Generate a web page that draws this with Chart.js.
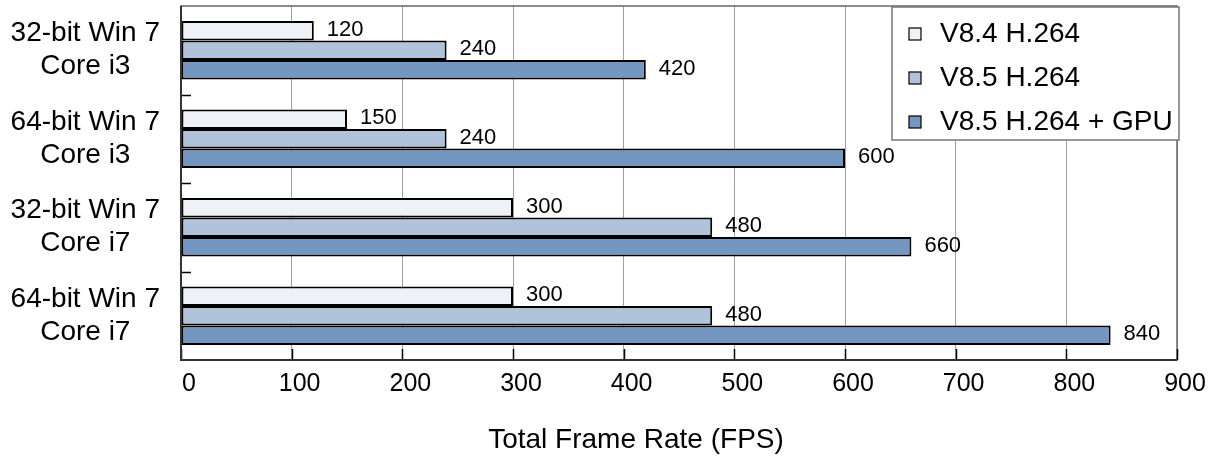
<!DOCTYPE html>
<html>
<head>
<meta charset="utf-8">
<script src="https://cdn.jsdelivr.net/npm/chart.js@4/dist/chart.umd.min.js"></script>
<style>
html,body{margin:0;padding:0;background:#fff;}
#wrap{width:1211px;height:457px;position:relative;}
</style>
</head>
<body>
<div id="wrap"><canvas id="c" width="1211" height="457"></canvas></div>
<script>
const categories = [["32-bit Win 7","Core i3"],["64-bit Win 7","Core i3"],["32-bit Win 7","Core i7"],["64-bit Win 7","Core i7"]];
const seriesNames = ["V8.4 H.264","V8.5 H.264","V8.5 H.264 + GPU"];
const v84 = [120,150,300,300];
const v85 = [240,240,480,480];
const v85gpu = [420,600,660,840];
const xTicks = [0,100,200,300,400,500,600,700,800,900];
const axisTitle = "Total Frame Rate (FPS)";

const colors = ["#EEF1F6","#B0C3DB","#7497C2"];
const FONT = "'Liberation Sans', Arial, sans-serif";

const plotFrame = {
  id:'plotFrame',
  beforeDatasetsDraw(chart){
    const {ctx, chartArea:a} = chart;
    ctx.save();
    ctx.strokeStyle = '#666';
    ctx.lineWidth = 1.5;
    ctx.strokeRect(a.left, a.top, a.right-a.left, a.bottom-a.top);
    const xs = chart.scales.x;
    ctx.strokeStyle = '#000';
    ctx.lineWidth = 1.5;
    xTicks.forEach(v=>{
      const px = Math.round(xs.getPixelForValue(v))+0.5;
      ctx.beginPath(); ctx.moveTo(px, a.bottom); ctx.lineTo(px, a.bottom-11); ctx.stroke();
    });
    const ys = chart.scales.y;
    for(let i=1;i<categories.length;i++){
      const py = Math.round((ys.getPixelForValue(i-1)+ys.getPixelForValue(i))/2)+0.5;
      ctx.beginPath(); ctx.moveTo(a.left, py); ctx.lineTo(a.left+10, py); ctx.stroke();
    }
    ctx.restore();
  },
  afterDatasetsDraw(chart){
    const {ctx, chartArea:a} = chart;
    ctx.save();
    ctx.strokeStyle = '#333';
    ctx.lineWidth = 2;
    ctx.beginPath(); ctx.moveTo(a.left, a.top); ctx.lineTo(a.left, a.bottom); ctx.lineTo(a.right, a.bottom); ctx.stroke();
    ctx.font = "22px " + FONT;
    ctx.fillStyle = '#000';
    ctx.textBaseline = 'middle';
    ctx.textAlign = 'left';
    chart.data.datasets.forEach((ds, di)=>{
      chart.getDatasetMeta(di).data.forEach((el, i)=>{
        ctx.fillText(String(ds.data[i]), el.x + 13, el.y - 1);
      });
    });
    // axis title
    ctx.font = "28px " + FONT;
    ctx.textAlign = 'center';
    ctx.fillText(axisTitle, (a.left + a.right)/2 - 43, 440);
    // legend
    const bw = 287, bh = 133;
    const bx = a.right + 2 - bw, by = a.top + 1;
    ctx.fillStyle = '#fff';
    ctx.fillRect(bx, by, bw, bh);
    ctx.strokeStyle = '#777';
    ctx.lineWidth = 1.5;
    ctx.strokeRect(bx, by, bw, bh);
    ctx.font = "28px " + FONT;
    ctx.textAlign = 'left';
    chart.data.datasets.forEach((ds, di)=>{
      const cy = by + 27 + di*44;
      ctx.fillStyle = ds.backgroundColor;
      ctx.fillRect(bx+17, cy-6, 12, 12);
      ctx.strokeStyle = '#000';
      ctx.lineWidth = 1.2;
      ctx.strokeRect(bx+17, cy-6, 12, 12);
      ctx.fillStyle = '#000';
      ctx.fillText(ds.label, bx+48, cy);
    });
    ctx.restore();
  }
};

new Chart(document.getElementById('c'), {
  type:'bar',
  data:{
    labels: categories,
    datasets:[
      {label: seriesNames[0], data: v84, backgroundColor: colors[0]},
      {label: seriesNames[1], data: v85, backgroundColor: colors[1]},
      {label: seriesNames[2], data: v85gpu, backgroundColor: colors[2]}
    ]
  },
  options:{
    indexAxis:'y',
    responsive:false,
    animation:false,
    devicePixelRatio:1,
    layout:{padding:{top:6,right:34,left:0,bottom:0}},
    datasets:{bar:{borderColor:'#000',borderWidth:2,categoryPercentage:0.66,barPercentage:1,borderSkipped:false}},
    plugins:{legend:{display:false},tooltip:{enabled:false}},
    scales:{
      x:{
        min:0,max:900,
        afterBuildTicks(s){ s.ticks = xTicks.map(v=>({value:v})); },
        afterFit(s){ s.height = 97; s.paddingLeft = 0; s.paddingRight = 0; },
        grid:{color:'#a0a0a0',lineWidth:1,drawTicks:false},
        border:{display:false},
        ticks:{font:{family:FONT,size:25},color:'#000',padding:9,maxRotation:0,labelOffset:8},
        title:{display:false}
      },
      y:{
        afterFit(s){ s.width = 181; s.paddingTop = 0; s.paddingBottom = 0; },
        grid:{display:false,drawTicks:false},
        border:{display:false},
        ticks:{font:{family:FONT,size:28,lineHeight:1.18},color:'#000',padding:21,crossAlign:'center'}
      }
    }
  },
  plugins:[plotFrame]
});
</script>
</body>
</html>
